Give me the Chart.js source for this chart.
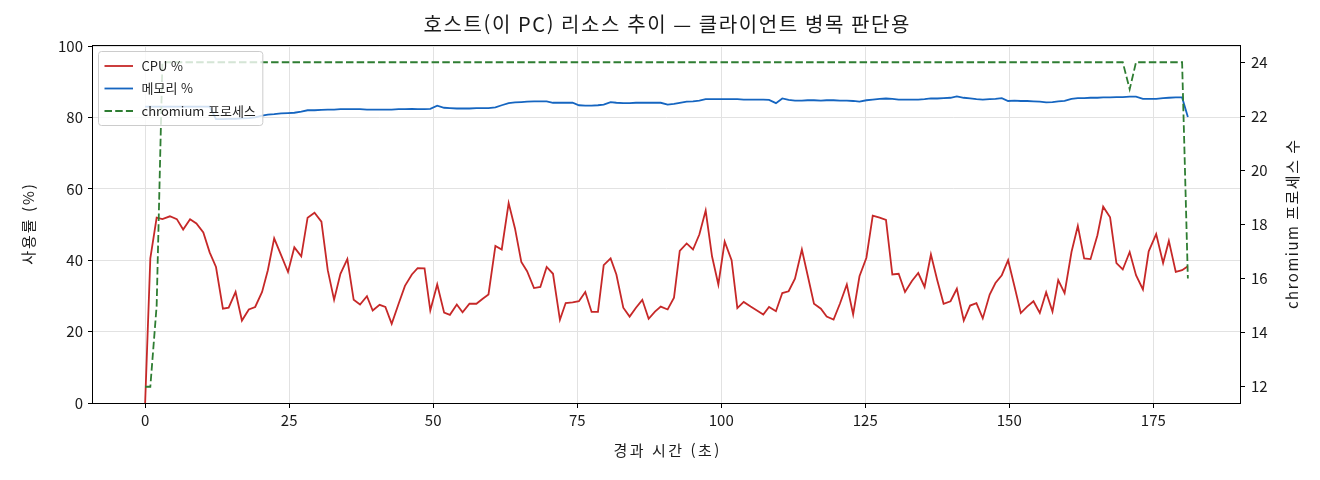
<!DOCTYPE html>
<html lang="ko">
<head>
<meta charset="utf-8">
<title>호스트(이 PC) 리소스 추이</title>
<script src="https://cdn.jsdelivr.net/npm/chart.js@4.4.1/dist/chart.umd.min.js"></script>
<style>
  html, body { margin: 0; padding: 0; background: #fff; }
  #wrap { width: 1320px; height: 480px; }
</style>
</head>
<body>
<div id="wrap"><canvas id="resourceChart" width="1320" height="480"></canvas></div>
<script>
// Sample times (s), ~1.1 s apart
const elapsedSec = [
    0, 0.9, 2.0, 3.0, 4.3, 5.5, 6.6, 7.8, 8.9, 10.1, 11.2, 12.3, 13.5, 14.5, 15.7, 16.8, 18.0, 19.1, 20.3, 21.3,
    22.4, 23.6, 24.8, 25.9, 27.1, 28.2, 29.4, 30.6, 31.7, 32.8, 33.9, 35.1,
    36.2, 37.3, 38.5, 39.5, 40.7, 41.7, 42.8, 44.0, 45.1, 46.3, 47.3, 48.5, 49.5, 50.7, 51.9, 52.9, 54.1, 55.1,
    56.3, 57.5, 58.6, 59.6, 60.8, 61.9, 63.1, 64.2, 65.3, 66.3, 67.5, 68.6, 69.7, 70.8,
    72.0, 73.0, 74.2, 75.3, 76.4, 77.5, 78.6, 79.6, 80.8, 81.8, 83.0, 84.1, 85.2, 86.3, 87.4, 88.5, 89.5, 90.7,
    91.8, 92.8, 94.0, 95.1, 96.2, 97.3, 98.4, 99.5, 100.6, 101.8, 102.8, 103.9, 105.1, 106.2, 107.3,
    108.3, 109.5, 110.6, 111.7, 112.8, 114.0, 115.0, 116.1, 117.3, 118.3, 119.5, 120.6, 121.8, 122.9, 124.0,
    125.2, 126.3, 127.5, 128.6, 129.7, 130.8, 131.9, 133.1, 134.2, 135.3, 136.4, 137.5, 138.6, 139.8, 140.9, 142.1, 143.2,
    144.3, 145.4, 146.6, 147.6, 148.7, 149.8, 150.9, 152.0, 153.1, 154.2, 155.3, 156.4, 157.5, 158.5, 159.6,
    160.8, 161.9, 163.0, 164.1, 165.3, 166.3, 167.5, 168.6, 169.7, 170.9, 172.0, 173.2, 174.2, 175.5, 176.7,
    177.7, 178.9, 180.0, 181.0
];

const cpuPct = [
    0, 40.5, 51.9, 51.5, 52.3, 51.5, 48.6, 51.5, 50.3, 47.8, 42.2, 38.1, 26.4, 26.7, 31.1, 23.1, 26.2, 26.9, 31.1, 37.2,
    46.1, 41.4, 36.7, 43.6, 41.1, 51.9, 53.3, 50.8, 37.2, 28.9, 36.2, 40.3,
    28.9, 27.6, 29.9, 25.9, 27.5, 26.9, 22.2, 27.8, 32.8, 36.0, 37.8, 37.7, 25.9, 33.2, 25.3, 24.7, 27.6, 25.4,
    27.8, 27.8, 29.2, 30.4, 44.0, 43.0, 56.0, 48.9, 39.5, 36.9, 32.2, 32.5, 38.1, 36.2,
    23.3, 28.0, 28.2, 28.5, 31.1, 25.5, 25.5, 38.6, 40.5, 36.0, 26.7, 24.2, 26.7, 28.9, 23.6, 25.6, 27.0, 26.2,
    29.5, 42.6, 44.7, 43.0, 47.2, 53.9, 41.1, 33.2, 45.2, 40.0, 26.6, 28.3, 27.0, 25.9, 24.8,
    26.9, 25.7, 30.8, 31.3, 34.8, 43.0, 35.8, 27.8, 26.4, 24.2, 23.4, 27.8, 33.2, 24.8, 35.5,
    40.7, 52.5, 51.9, 51.3, 36.0, 36.2, 31.1, 34.2, 36.4, 32.5, 41.6, 34.4, 27.8, 28.5, 32.0, 23.1, 27.3,
    28.0, 23.7, 30.4, 33.6, 35.8, 40.0, 32.7, 25.2, 27.0, 28.5, 25.2, 31.0, 25.6, 34.4, 30.8,
    42.3, 49.6, 40.5, 40.3, 47.0, 55.0, 52.0, 39.2, 37.4, 42.3, 35.8, 31.8, 42.5, 47.3, 39.2,
    45.4, 36.7, 37.2, 38.3
];

const memPct = [
    83.0, 83.0, 83.0, 83.0, 83.0, 83.0, 83.0, 83.0, 83.0, 83.0, 83.0, 79.5, 79.5, 79.6, 79.6, 79.7, 79.8, 80.0, 80.5, 80.8,
    80.9, 81.1, 81.2, 81.3, 81.6, 82.0, 82.0, 82.1, 82.2, 82.2, 82.3, 82.3,
    82.3, 82.3, 82.2, 82.2, 82.2, 82.2, 82.2, 82.3, 82.3, 82.4, 82.3, 82.3, 82.4, 83.3, 82.7, 82.6, 82.5, 82.5,
    82.5, 82.6, 82.6, 82.6, 82.8, 83.4, 84.0, 84.2, 84.3, 84.4, 84.5, 84.5, 84.5, 84.1,
    84.1, 84.1, 84.1, 83.4, 83.3, 83.3, 83.4, 83.6, 84.3, 84.1, 84.0, 84.0, 84.1, 84.1, 84.1, 84.1, 84.1, 83.6,
    83.8, 84.1, 84.4, 84.5, 84.7, 85.1, 85.1, 85.1, 85.1, 85.1, 85.1, 85.0, 85.0, 85.0, 85.0,
    84.9, 84.0, 85.3, 84.9, 84.7, 84.7, 84.8, 84.8, 84.7, 84.8, 84.8, 84.7, 84.7, 84.6, 84.4,
    84.8, 85.0, 85.2, 85.3, 85.2, 85.0, 85.0, 85.0, 85.0, 85.1, 85.3, 85.3, 85.4, 85.5, 85.9, 85.5, 85.3,
    85.1, 85.0, 85.1, 85.2, 85.4, 84.6, 84.7, 84.6, 84.6, 84.5, 84.4, 84.2, 84.3, 84.5, 84.6,
    85.2, 85.4, 85.4, 85.5, 85.5, 85.6, 85.6, 85.7, 85.7, 85.8, 85.8, 85.2, 85.2, 85.2, 85.4,
    85.5, 85.6, 85.6, 80.1
];

const chromiumProcs = [
    12, 12, 15, 24, 24, 24, 24, 24, 24, 24, 24, 24, 24, 24, 24, 24, 24, 24, 24, 24,
    24, 24, 24, 24, 24, 24, 24, 24, 24, 24, 24, 24,
    24, 24, 24, 24, 24, 24, 24, 24, 24, 24, 24, 24, 24, 24, 24, 24, 24, 24,
    24, 24, 24, 24, 24, 24, 24, 24, 24, 24, 24, 24, 24, 24,
    24, 24, 24, 24, 24, 24, 24, 24, 24, 24, 24, 24, 24, 24, 24, 24, 24, 24,
    24, 24, 24, 24, 24, 24, 24, 24, 24, 24, 24, 24, 24, 24, 24,
    24, 24, 24, 24, 24, 24, 24, 24, 24, 24, 24, 24, 24, 24, 24,
    24, 24, 24, 24, 24, 24, 24, 24, 24, 24, 24, 24, 24, 24, 24, 24, 24,
    24, 24, 24, 24, 24, 24, 24, 24, 24, 24, 24, 24, 24, 24, 24,
    24, 24, 24, 24, 24, 24, 24, 24, 24, 23, 24, 24, 24, 24, 24,
    24, 24, 24, 16
];

const xTicks = [0, 25, 50, 75, 100, 125, 150, 175];
const pctTicks = [0, 20, 40, 60, 80, 100];
const procTicks = [12, 14, 16, 18, 20, 22, 24];

const FONT = '"Noto Sans CJK KR", "Noto Sans", sans-serif';
const pts = vals => elapsedSec.map((t, i) => ({ x: t, y: vals[i] }));

function label(ctx, text, x, y, size, spacing, rot) {
    ctx.save();
    ctx.translate(x, y);
    if (rot) ctx.rotate(rot);
    ctx.font = size + 'px ' + FONT;
    ctx.letterSpacing = spacing + 'px';
    ctx.fillStyle = '#1a1a1a';
    ctx.textAlign = 'center';
    ctx.textBaseline = 'middle';
    ctx.fillText(text, spacing / 2, 0);
    ctx.restore();
}

// Plot frame (all four spines)
const frame = {
    id: 'frame',
    afterDraw(chart) {
        const { ctx, chartArea: a } = chart;
        ctx.save();
        ctx.strokeStyle = '#000';
        ctx.lineWidth = 1;
        ctx.strokeRect(a.left - 0.5, a.top - 0.5, a.right - a.left + 1, a.bottom - a.top + 1);
        ctx.restore();
    }
};

// Title and axis titles (wider letter spacing than Chart.js allows)
const titles = {
    id: 'titles',
    afterDraw(chart) {
        const { ctx, chartArea: a } = chart;
        const midX = (a.left + a.right) / 2, midY = (a.top + a.bottom) / 2;
        label(ctx, '호스트(이 PC) 리소스 추이 — 클라이언트 병목 판단용', midX, 24, 20, 1.6, 0);
        label(ctx, '경과 시간 (초)', midX, 450, 15, 2.5, 0);
        label(ctx, '사용률 (%)', 28, midY, 15, 2, -Math.PI / 2);
        label(ctx, 'chromium 프로세스 수', 1292, midY, 15, 1.5, -Math.PI / 2);
    }
};

// Legend in the upper-left corner of the plot
const insideLegend = {
    id: 'insideLegend',
    afterDraw(chart) {
        const { ctx, chartArea: a } = chart;
        const items = chart.data.datasets;
        ctx.save();
        ctx.font = '13px ' + FONT;
        const textW = Math.max(...items.map(d => ctx.measureText(d.label).width));
        const x = a.left + 5.5, y = a.top + 5.5;
        const w = 43 + textW + 7, h = 74;
        ctx.beginPath();
        ctx.roundRect(x, y, w, h, 3);
        ctx.fillStyle = 'rgba(255,255,255,0.8)';
        ctx.fill();
        ctx.strokeStyle = '#cccccc';
        ctx.lineWidth = 1;
        ctx.stroke();
        items.forEach((d, i) => {
            const cy = y + 14.5 + i * 22.5;
            ctx.beginPath();
            ctx.setLineDash(d.borderDash || []);
            ctx.strokeStyle = d.borderColor;
            ctx.lineWidth = d.borderWidth;
            ctx.moveTo(x + 6, cy);
            ctx.lineTo(x + 34.5, cy);
            ctx.stroke();
            ctx.setLineDash([]);
            ctx.fillStyle = '#222';
            ctx.textAlign = 'left';
            ctx.textBaseline = 'middle';
            ctx.fillText(d.label, x + 43, cy);
        });
        ctx.restore();
    }
};

const tickFont = { family: FONT, size: 15 };

const ctx = document.getElementById('resourceChart').getContext('2d');
new Chart(ctx, {
    type: 'line',
    data: {
        datasets: [
            {
                label: 'CPU %',
                data: pts(cpuPct),
                borderColor: '#c62828',
                borderWidth: 1.8,
                pointRadius: 0,
                yAxisID: 'y',
                order: 2
            },
            {
                label: '메모리 %',
                data: pts(memPct),
                borderColor: '#1565c0',
                borderWidth: 1.8,
                pointRadius: 0,
                yAxisID: 'y',
                order: 1
            },
            {
                label: 'chromium 프로세스',
                data: pts(chromiumProcs),
                borderColor: '#2e7d32',
                borderWidth: 1.8,
                borderDash: [7.5, 3.2],
                pointRadius: 0,
                yAxisID: 'y1',
                order: 0
            }
        ]
    },
    options: {
        responsive: false,
        devicePixelRatio: 1,
        animation: false,
        events: [],
        layout: { padding: { top: 46 } },
        plugins: {
            legend: { display: false },
            tooltip: { enabled: false },
            title: { display: false }
        },
        scales: {
            x: {
                type: 'linear',
                min: -9.05,
                max: 190.05,
                afterBuildTicks: s => { s.ticks = xTicks.map(v => ({ value: v })); },
                afterFit: s => { s.height = 77; },
                border: { display: false },
                grid: { color: '#e2e2e2', tickColor: '#000', tickLength: 5 },
                ticks: { color: '#1a1a1a', padding: 3, maxRotation: 0, font: tickFont }
            },
            y: {
                type: 'linear',
                position: 'left',
                min: 0,
                max: 100,
                afterBuildTicks: s => { s.ticks = pctTicks.map(v => ({ value: v })); },
                afterFit: s => { s.width = 93; },
                border: { display: false },
                grid: { color: '#e2e2e2', tickColor: '#000', tickLength: 5 },
                ticks: { color: '#1a1a1a', padding: 5, font: tickFont }
            },
            y1: {
                type: 'linear',
                position: 'right',
                min: 11.4,
                max: 24.6,
                afterBuildTicks: s => { s.ticks = procTicks.map(v => ({ value: v })); },
                afterFit: s => { s.width = 80; },
                border: { display: false },
                grid: { drawOnChartArea: false, tickColor: '#000', tickLength: 5 },
                ticks: { color: '#1a1a1a', padding: 6, font: tickFont }
            }
        }
    },
    plugins: [frame, titles, insideLegend]
});
</script>
</body>
</html>
